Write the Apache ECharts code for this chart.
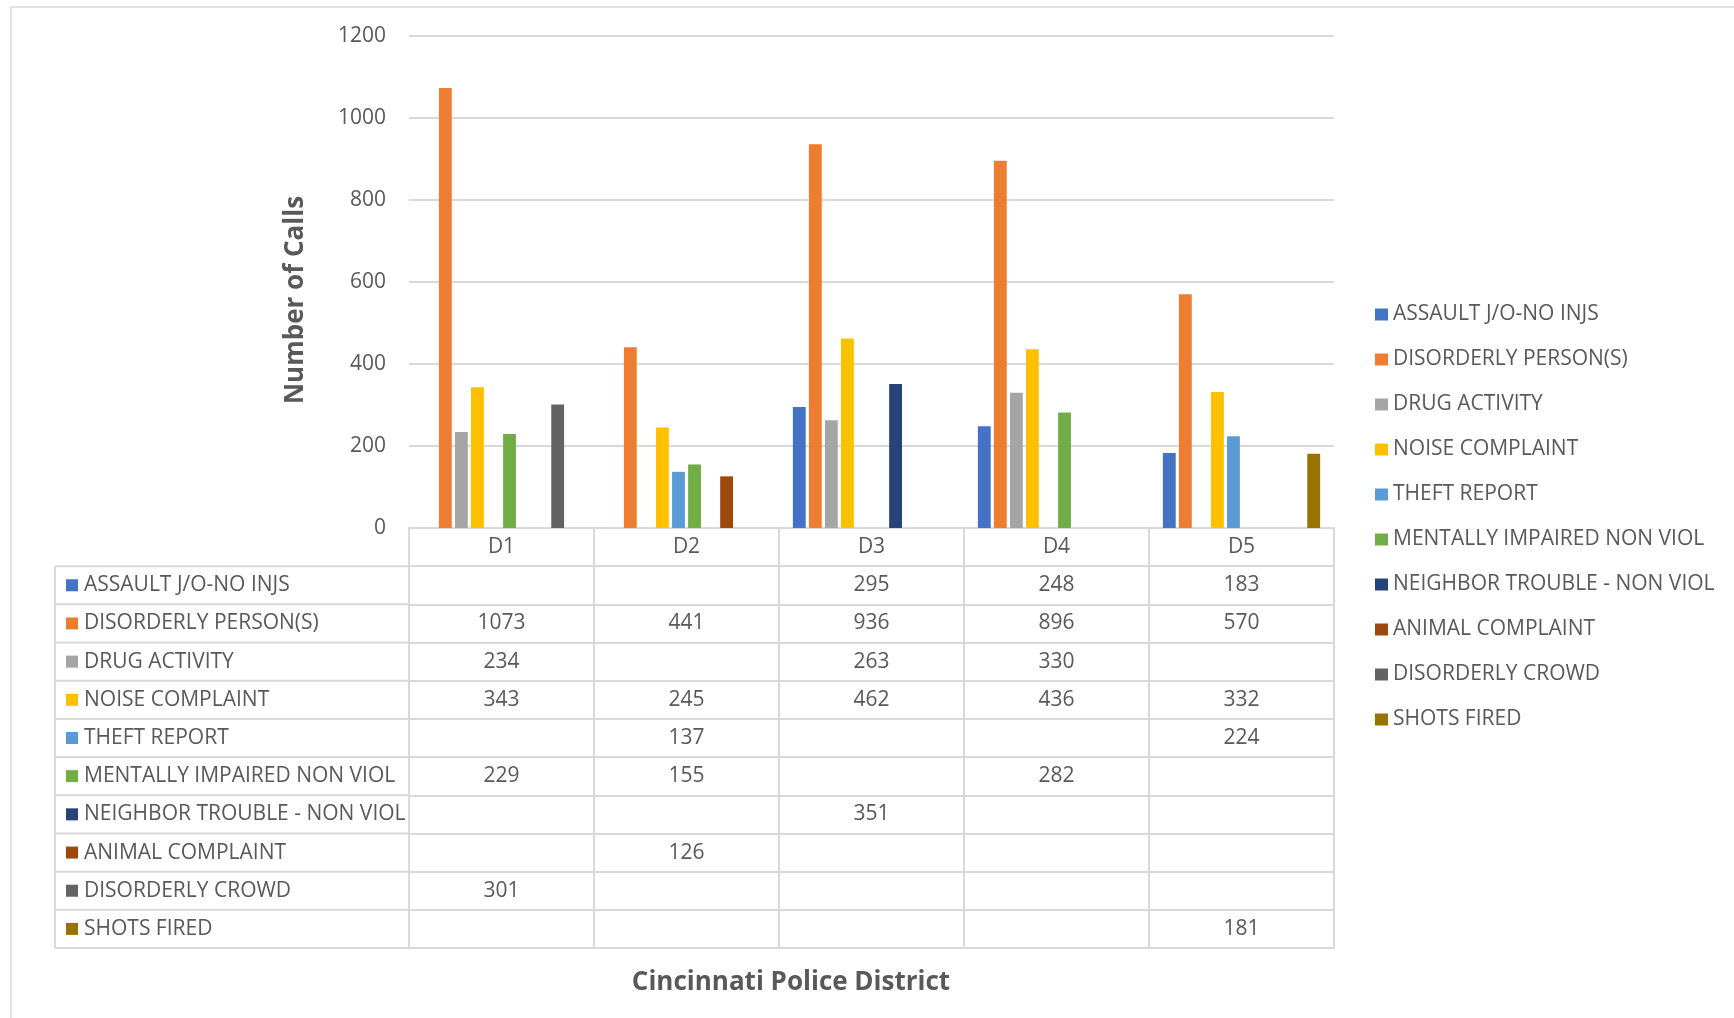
<!DOCTYPE html>
<html><head><meta charset="utf-8">
<script src="https://cdn.jsdelivr.net/npm/echarts@6/dist/echarts.min.js"></script>
<style>html,body{margin:0;padding:0;background:#fff}#c{width:1734px;height:1018px}</style>
</head><body><div id="c"></div>
<script>
const districts = ['D1', 'D2', 'D3', 'D4', 'D5'];
const seriesNames = ['ASSAULT J/O-NO INJS', 'DISORDERLY PERSON(S)', 'DRUG ACTIVITY', 'NOISE COMPLAINT', 'THEFT REPORT', 'MENTALLY IMPAIRED NON VIOL', 'NEIGHBOR TROUBLE - NON VIOL', 'ANIMAL COMPLAINT', 'DISORDERLY CROWD', 'SHOTS FIRED'];
const assault = [null, null, 295, 248, 183];
const disorderlyPerson = [1073, 441, 936, 896, 570];
const drugActivity = [234, null, 263, 330, null];
const noiseComplaint = [343, 245, 462, 436, 332];
const theftReport = [null, 137, null, null, 224];
const mentallyImpaired = [229, 155, null, 282, null];
const neighborTrouble = [null, null, 351, null, null];
const animalComplaint = [null, 126, null, null, null];
const disorderlyCrowd = [301, null, null, null, null];
const shotsFired = [null, null, null, null, 181];
const yMin = 0, yMax = 1200, yStep = 200;
const colors = ['#4472C4', '#ED7D31', '#A5A5A5', '#FFC000', '#5B9BD5', '#70AD47', '#264478', '#9E480E', '#636363', '#997300'];
const yTitle = 'Number of Calls';
const xTitle = 'Cincinnati Police District';

const seriesValues = [assault, disorderlyPerson, drugActivity, noiseComplaint, theftReport, mentallyImpaired, neighborTrouble, animalComplaint, disorderlyCrowd, shotsFired];

// layout
const FF = '"Open Sans", "Noto Sans", sans-serif';
const TXT = '#595959';
const LINE = '#d9d9d9';
const gridLeft = 409, gridRight = 1334, gridTop = 36, axisY = 528, tableBottom = 948, tableLeft = 55;
const rowH = (tableBottom - axisY) / 11;
const fs = 21;

const chart = echarts.init(document.getElementById('c'));

const xAxes = [];
xAxes.push({
  type: 'category', data: districts, gridIndex: 0, position: 'bottom', offset: 0,
  axisLine: { onZero: false, lineStyle: { color: LINE, width: 2 } },
  axisTick: { show: true, length: rowH, interval: 0, lineStyle: { color: LINE, width: 2 } },
  axisLabel: { interval: 0, margin: rowH / 2, verticalAlign: 'middle', color: TXT, fontSize: fs, fontFamily: FF }
});
seriesValues.forEach((vals, k) => {
  xAxes.push({
    type: 'category', data: districts, gridIndex: 0, position: 'bottom', offset: (k + 1) * rowH,
    axisLine: { onZero: false, lineStyle: { color: LINE, width: 2 } },
    axisTick: { show: true, length: rowH, interval: 0, lineStyle: { color: LINE, width: 2 } },
    axisLabel: {
      interval: 0, margin: rowH / 2, verticalAlign: 'middle', color: TXT, fontSize: fs, fontFamily: FF,
      formatter: (v, i) => (vals[i] == null ? '' : String(vals[i]))
    }
  });
});
xAxes.push({
  type: 'category', data: districts, gridIndex: 0, position: 'bottom', offset: 11 * rowH,
  axisLine: { onZero: false, lineStyle: { color: LINE, width: 2 } },
  axisTick: { show: false }, axisLabel: { show: false }
});

const graphics = [];
graphics.push({ type: 'rect', shape: { x: 11, y: 7, width: 1800, height: 1100 }, style: { fill: 'none', stroke: LINE, lineWidth: 1.5 }, silent: true, z: 0 });
graphics.push({ type: 'text', x: 296, y: 300, rotation: Math.PI / 2, style: { text: yTitle, fill: TXT, font: 'bold 26px ' + FF, textAlign: 'center', textVerticalAlign: 'middle' } });
graphics.push({ type: 'text', x: 791, y: 983, style: { text: xTitle, fill: TXT, font: 'bold 26px ' + FF, textAlign: 'center', textVerticalAlign: 'middle' } });
const rowTop = axisY + rowH;
for (let k = 0; k <= seriesNames.length; k++) {
  const y = rowTop + k * rowH;
  graphics.push({ type: 'line', shape: { x1: tableLeft, y1: y, x2: gridLeft, y2: y }, style: { stroke: LINE, lineWidth: 2 } });
}
graphics.push({ type: 'line', shape: { x1: tableLeft, y1: rowTop, x2: tableLeft, y2: tableBottom }, style: { stroke: LINE, lineWidth: 2 } });
seriesNames.forEach((name, k) => {
  const cy = rowTop + (k + 0.5) * rowH;
  graphics.push({ type: 'rect', shape: { x: 66, y: cy - 6, width: 12, height: 12 }, style: { fill: colors[k] } });
  graphics.push({ type: 'text', x: 84, y: cy, style: { text: name, fill: TXT, font: fs + 'px ' + FF, textAlign: 'left', textVerticalAlign: 'middle' } });
});

const option = {
  animation: false,
  color: colors,
  grid: { left: gridLeft, right: 1734 - gridRight, top: gridTop, bottom: 1018 - axisY, containLabel: false, outerBoundsMode: 'none' },
  legend: {
    orient: 'vertical', left: 1370, top: 299, icon: 'rect', itemWidth: 13, itemHeight: 12, itemGap: 24,
    data: seriesNames,
    textStyle: { color: TXT, fontSize: fs, fontFamily: FF, lineHeight: 21 }
  },
  xAxis: xAxes,
  yAxis: {
    type: 'value', min: yMin, max: yMax, interval: yStep,
    axisLine: { show: false }, axisTick: { show: false },
    axisLabel: { color: TXT, fontSize: fs, fontFamily: FF, margin: 23, formatter: v => String(v) },
    splitLine: { lineStyle: { color: LINE, width: 2 } }
  },
  series: seriesNames.map((name, k) => ({
    name, type: 'bar', xAxisIndex: 0, yAxisIndex: 0, data: seriesValues[k],
    barCategoryGap: '15%', barGap: '25%',
    itemStyle: { color: colors[k] }
  })),
  graphic: graphics
};
chart.setOption(option);
</script></body></html>
